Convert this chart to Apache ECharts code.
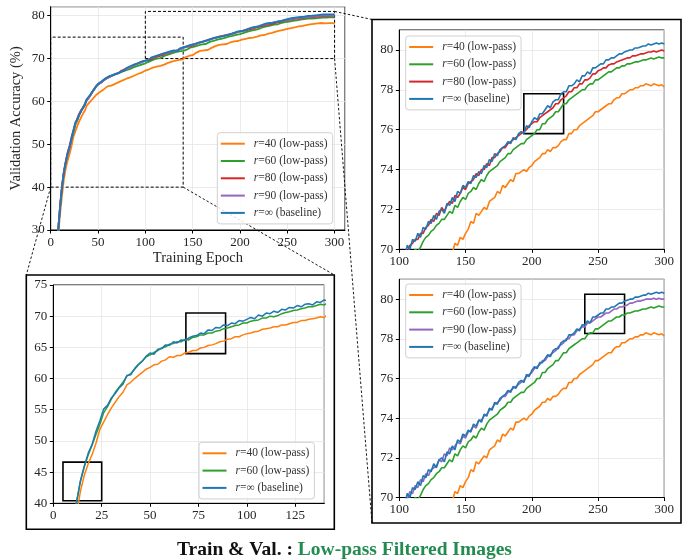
<!DOCTYPE html>
<html><head><meta charset="utf-8">
<script src="https://cdn.jsdelivr.net/npm/echarts@6/dist/echarts.min.js"></script>
<style>html,body{margin:0;padding:0;background:#fff}#c{width:694px;height:559px}</style>
</head><body><div id="c"></div>
<script>
// ---------- data: validation accuracy (%) every 2 epochs, epochs 2..300 ----------
const EPOCH_START = 2, EPOCH_STEP = 2;
const NAME_R40 = 'r=40 (low-pass)';
const NAME_R60 = 'r=60 (low-pass)';
const NAME_R80 = 'r=80 (low-pass)';
const NAME_R90 = 'r=90 (low-pass)';
const NAME_BASE = 'r=\u221e (baseline)';

const acc_r40 = [
 11.5,17.3,23.2,28.8,33.9,38.2,41.9,44.5,46.3,47.8,49.6,51.8,53.0,54.2,55.3,56.2,57.1,57.8,59.0,59.4,
 60.0,60.5,61.0,61.5,61.8,62.2,62.3,62.8,63.0,63.5,63.4,63.7,63.7,64.1,64.2,64.5,64.5,64.9,65.0,65.3,
 65.4,65.6,65.9,66.0,66.3,66.4,66.7,66.7,67.0,67.2,67.3,67.5,67.6,67.9,68.0,68.1,68.3,68.3,68.6,68.6,
 68.8,69.0,69.0,69.3,69.3,69.5,69.6,69.7,69.9,69.8,70.3,70.2,70.6,70.5,70.8,71.0,71.4,71.3,71.8,71.7,
 71.9,72.1,72.0,72.4,72.5,72.6,72.9,72.8,73.2,73.1,73.3,73.5,73.4,73.8,73.8,73.9,74.0,73.9,74.1,74.2,
 74.4,74.5,74.6,74.8,74.8,75.0,74.9,75.1,75.1,75.2,75.4,75.5,75.5,75.8,75.8,76.0,76.0,76.2,76.3,76.4,
 76.5,76.6,76.7,76.9,76.9,77.0,77.1,77.2,77.3,77.3,77.5,77.6,77.6,77.8,77.8,77.9,78.0,78.0,78.1,78.1,
 78.2,78.2,78.3,78.25,78.2,78.3,78.25,78.2,78.25,78.15
];
const acc_r60 = [
 12.1,18.2,24.4,30.2,35.6,40.1,43.5,45.9,47.7,49.3,51.0,52.6,54.5,55.5,56.7,57.8,58.6,59.4,60.4,60.8,
 61.5,62.2,62.8,63.5,63.8,64.2,64.5,64.9,65.1,65.5,65.6,65.9,65.9,66.3,66.2,66.6,66.7,67.0,67.0,67.3,
 67.3,67.6,67.7,68.0,68.1,68.3,68.5,68.6,68.9,68.9,69.2,69.3,69.4,69.7,69.7,70.0,69.9,70.1,70.4,70.6,
 70.7,70.9,71.0,71.2,71.3,71.5,71.5,71.7,71.9,71.8,72.2,72.1,72.4,72.6,72.5,72.8,72.9,73.1,73.0,73.3,
 73.5,73.4,73.7,73.9,74.0,74.1,74.2,74.4,74.5,74.6,74.8,74.8,75.0,75.1,75.2,75.3,75.3,75.5,75.6,75.7,
 75.8,76.0,76.0,76.3,76.3,76.5,76.6,76.7,76.9,76.9,77.1,77.3,77.3,77.5,77.6,77.7,77.8,77.9,78.0,78.0,
 78.2,78.3,78.3,78.5,78.5,78.6,78.7,78.8,78.9,78.9,79.0,79.1,79.1,79.2,79.2,79.3,79.3,79.35,79.4,79.4,
 79.45,79.5,79.5,79.55,79.6,79.55,79.6,79.65,79.6,79.6
];
const acc_r80 = [
 12.3,18.5,24.6,30.4,35.9,40.4,43.8,46.2,48.2,49.7,51.6,53.3,54.8,56.0,57.1,57.9,58.4,59.3,60.3,60.8,
 61.4,62.2,63.0,63.4,64.0,64.2,64.5,65.0,65.2,65.5,65.7,66.0,66.0,66.4,66.6,66.6,67.1,67.0,67.5,67.6,
 67.9,68.0,68.3,68.4,68.7,68.7,69.0,69.1,69.4,69.4,69.6,69.9,69.8,70.2,70.3,70.5,70.5,70.8,70.8,71.1,
 71.2,71.5,71.4,71.8,71.7,72.1,71.9,72.2,72.4,72.3,72.7,72.6,72.8,73.1,73.0,73.3,73.4,73.5,73.8,73.7,
 74.0,74.0,74.3,74.2,74.6,74.6,74.8,74.9,75.1,75.1,75.3,75.4,75.5,75.6,75.7,75.8,75.9,76.0,76.2,76.3,
 76.4,76.4,76.6,76.7,76.8,76.9,77.0,77.1,77.3,77.3,77.5,77.6,77.7,77.9,77.9,78.1,78.1,78.3,78.3,78.5,
 78.5,78.6,78.8,78.8,78.95,79.0,79.1,79.1,79.25,79.3,79.3,79.4,79.45,79.5,79.55,79.6,79.6,79.7,79.7,79.75,
 79.8,79.8,79.85,79.9,79.9,79.95,79.9,79.95,80.0,79.95
];
const acc_r90 = [
 12.1,18.1,24.2,30.2,35.7,40.1,43.5,45.8,47.8,49.3,51.2,53.0,54.7,55.7,56.8,57.7,58.4,59.2,60.2,60.7,
 61.5,62.2,62.9,63.5,63.9,64.2,64.6,65.0,65.2,65.5,65.8,65.9,66.1,66.3,66.5,66.7,67.0,67.1,67.4,67.6,
 67.8,68.0,68.3,68.4,68.6,68.8,69.0,69.1,69.3,69.5,69.6,69.9,69.9,70.3,70.2,70.6,70.5,70.9,70.8,71.2,
 71.1,71.4,71.5,71.6,71.9,71.8,72.2,72.1,72.5,72.4,72.6,72.8,72.7,73.1,73.0,73.3,73.4,73.6,73.5,73.9,
 73.9,74.1,74.2,74.4,74.5,74.7,74.8,74.9,75.1,75.1,75.3,75.4,75.5,75.6,75.7,75.8,75.9,76.1,76.2,76.3,
 76.5,76.6,76.7,76.9,76.9,77.1,77.2,77.3,77.4,77.6,77.7,77.8,78.0,78.0,78.2,78.2,78.4,78.5,78.6,78.6,
 78.8,78.8,78.9,79.0,79.1,79.1,79.2,79.3,79.3,79.4,79.5,79.5,79.6,79.6,79.65,79.7,79.8,79.8,79.85,79.9,
 79.9,79.95,80.0,80.0,80.0,80.05,80.0,80.05,80.0,80.0
];
const acc_base = [
 12.0,18.2,24.3,30.1,35.6,40.2,43.6,45.9,48.0,49.4,51.5,53.2,55.1,55.7,56.9,57.6,58.5,59.1,60.5,60.6,
 61.6,62.3,62.8,63.6,64.1,63.9,64.7,64.8,65.4,65.3,65.9,65.7,66.2,66.1,66.5,66.8,66.9,67.3,67.2,67.8,
 67.7,68.2,68.1,68.6,68.5,68.9,68.8,69.3,69.2,69.5,69.8,69.6,70.2,70.0,70.5,70.4,70.8,70.6,71.1,71.0,
 71.4,71.3,71.7,71.5,71.9,72.0,71.8,72.3,72.2,72.6,72.4,72.9,72.8,73.2,73.1,73.4,73.3,73.7,73.6,73.9,
 73.8,74.2,74.1,74.5,74.4,74.8,74.7,75.0,75.1,75.2,75.4,75.3,75.6,75.5,75.8,75.9,75.8,76.2,76.1,76.4,
 76.6,76.5,76.8,76.8,77.0,77.2,77.1,77.4,77.5,77.5,77.8,77.9,77.9,78.2,78.2,78.3,78.5,78.4,78.7,78.7,
 78.9,78.8,79.1,79.1,79.2,79.3,79.3,79.5,79.5,79.6,79.6,79.7,79.8,79.8,79.9,79.95,80.0,80.0,80.1,80.1,
 80.15,80.2,80.2,80.3,80.25,80.3,80.35,80.3,80.35,80.3
];

// zoom regions (data coordinates)
const MAIN_ZOOM_A = [[0, 40], [140, 75]];
const MAIN_ZOOM_B = [[100, 70], [300, 81]];
const BL_BOXES = [[[5, 40.4], [25, 46.6]], [[68.5, 64.0], [89, 70.5]]];
const TR_BOXES = [[[194, 75.8], [224, 77.8]]];
const BR_BOXES = [[[240, 78.27], [270, 80.25]]];

// ---------- helpers ----------
const COLORS = {r40:'#ff7f0e', r60:'#2ca02c', r80:'#d62728', r90:'#9467bd', base:'#1f77b4'};
const FONT = 'Liberation Serif';
function pairs(arr){ return arr.map((v,i)=>[EPOCH_START + i*EPOCH_STEP, v]); }
function line(name, color, idx, arr, w, extra){
  return Object.assign({
    type:'line', name, xAxisIndex: idx, yAxisIndex: idx, data: pairs(arr),
    symbol:'none', showSymbol:false, clip:true, animation:false,
    lineStyle:{color, width:w}, itemStyle:{color}, emphasis:{disabled:true}
  }, extra||{});
}
function areaMark(boxes, dashed){
  return {
    silent:true, label:{show:false},
    itemStyle:{color:'rgba(0,0,0,0)', borderColor:'#000', borderWidth: dashed?1:1.6, borderType: dashed?[3,2]:'solid'},
    data: boxes.map(b=>[{coord:b[0]},{coord:b[1]}])
  };
}
const grids = [
  {left:50.7, top:6.7, width:294.3, height:223.3},
  {left:53.3, top:285, width:271, height:218.3},
  {left:399.3, top:30, width:265, height:219.3},
  {left:399.3, top:279.3, width:265, height:218.2}
];
function xA(idx, min, max, interval, extra){
  return Object.assign({type:'value', gridIndex:idx, min, max, interval,
    axisLine:{show:true, onZero:false, lineStyle:{color:'#000', width:1}},
    axisTick:{show:true, length:3.5, lineStyle:{color:'#000'}},
    axisLabel:{fontFamily:FONT, fontSize:13, color:'#262626', margin:6, showMaxLabel: (max%interval===0)},
    splitLine:{show:true, lineStyle:{color:'#e6e6e6', width:0.8}}
  }, extra||{});
}
function yA(idx, min, max, interval, extra){
  return Object.assign({type:'value', gridIndex:idx, min, max, interval,
    axisLine:{show:true, onZero:false, lineStyle:{color:'#000', width:1}},
    axisTick:{show:true, length:3.5, lineStyle:{color:'#000'}},
    axisLabel:{fontFamily:FONT, fontSize:13, color:'#262626', margin:6, showMaxLabel: (max%interval===0)},
    splitLine:{show:true, lineStyle:{color:'#e6e6e6', width:0.8}}
  }, extra||{});
}
function legend(left, top, names){
  return {
    orient:'vertical', left, top, data:names, icon:'rect', itemWidth:24, itemHeight:2,
    itemGap:3.3, padding:[4,5,4,3.5], backgroundColor:'rgba(255,255,255,0.85)',
    borderColor:'#d0d0d0', borderWidth:1, borderRadius:3, selectedMode:false,
    formatter: n => '{i|r}' + n.slice(1),
    textStyle:{fontFamily:FONT, fontSize:11.5, color:'#333', lineHeight:14, padding:[0,0,0,4],
      rich:{i:{fontStyle:'italic', fontFamily:FONT, fontSize:11.5, color:'#333', lineHeight:14}}}
  };
}

const chart = echarts.init(document.getElementById('c'), null, {renderer:'canvas'});
const option = {
  animation:false,
  backgroundColor:'#fff',
  title:{
    text:'{a|Train & Val. : }{b|Low-pass Filtered Images}',
    left:172, top:535,
    textStyle:{rich:{
      a:{fontFamily:FONT, fontWeight:'bold', fontSize:19.5, color:'#111'},
      b:{fontFamily:FONT, fontWeight:'bold', fontSize:19.5, color:'#228b50'}
    }}
  },
  grid: grids.map(g=>Object.assign({show:true, borderColor:'#000', borderWidth:1, backgroundColor:'transparent', containLabel:false}, g)),
  xAxis:[
    xA(0, 0, 311, 50, {name:'Training Epoch', nameLocation:'middle', nameGap:21,
      nameTextStyle:{fontFamily:FONT, fontSize:14.5, color:'#262626'}}),
    xA(1, 0, 140, 25),
    xA(2, 100, 300, 50),
    xA(3, 100, 300, 50)
  ],
  yAxis:[
    yA(0, 30, 82.1, 10, {name:'Validation Accuracy (%)', nameLocation:'middle', nameGap:27, nameRotate:90,
      nameTextStyle:{fontFamily:FONT, fontSize:14.5, color:'#262626'}}),
    yA(1, 40, 75, 5),
    yA(2, 70, 81, 2),
    yA(3, 70, 81, 2)
  ],
  legend:[
    legend(217.3, 132.7, [NAME_R40, NAME_R60, NAME_R80, NAME_R90, NAME_BASE]),
    legend(199, 442.3, [NAME_R40, NAME_R60, NAME_BASE]),
    legend(405.7, 36, [NAME_R40, NAME_R60, NAME_R80, NAME_BASE]),
    legend(405.7, 284, [NAME_R40, NAME_R60, NAME_R90, NAME_BASE])
  ],
  series:[
    line(NAME_R40, COLORS.r40, 0, acc_r40, 1.8),
    line(NAME_R60, COLORS.r60, 0, acc_r60, 1.8),
    line(NAME_R80, COLORS.r80, 0, acc_r80, 1.8),
    line(NAME_R90, COLORS.r90, 0, acc_r90, 1.8),
    line(NAME_BASE, COLORS.base, 0, acc_base, 1.8, {markArea: areaMark([MAIN_ZOOM_A, MAIN_ZOOM_B], true)}),

    line(NAME_R40, COLORS.r40, 1, acc_r40, 1.5),
    line(NAME_R60, COLORS.r60, 1, acc_r60, 1.5),
    line(NAME_BASE, COLORS.base, 1, acc_base, 1.5, {markArea: areaMark(BL_BOXES, false)}),

    line(NAME_R40, COLORS.r40, 2, acc_r40, 1.6),
    line(NAME_R60, COLORS.r60, 2, acc_r60, 1.6),
    line(NAME_R80, COLORS.r80, 2, acc_r80, 1.6),
    line(NAME_BASE, COLORS.base, 2, acc_base, 1.6, {markArea: areaMark(TR_BOXES, false)}),

    line(NAME_R40, COLORS.r40, 3, acc_r40, 1.6),
    line(NAME_R60, COLORS.r60, 3, acc_r60, 1.6),
    line(NAME_R90, COLORS.r90, 3, acc_r90, 1.6),
    line(NAME_BASE, COLORS.base, 3, acc_base, 1.6, {markArea: areaMark(BR_BOXES, false)})
  ]
};
chart.setOption(option);

// frames around the zoomed panels and the connector lines
const BOX_RIGHT = {x:372, y:19.5, w:309, h:503.5};
const BOX_BL = {x:26.3, y:275, w:308, h:254.3};
const pA0 = chart.convertToPixel({gridIndex:0}, [MAIN_ZOOM_A[0][0], MAIN_ZOOM_A[0][1]]);
const pA1 = chart.convertToPixel({gridIndex:0}, [MAIN_ZOOM_A[1][0], MAIN_ZOOM_A[0][1]]);
const pB0 = chart.convertToPixel({gridIndex:0}, [MAIN_ZOOM_B[1][0], MAIN_ZOOM_B[1][1]]);
const pB1 = chart.convertToPixel({gridIndex:0}, [MAIN_ZOOM_B[1][0], MAIN_ZOOM_B[0][1]]);
const dash = {stroke:'#000', lineWidth:0.9, lineDash:[2.5,2]};
const frame = {stroke:'#000', lineWidth:1.6, fill:'none'};
chart.setOption({graphic:[
  {type:'rect', id:'bR', shape:{x:BOX_RIGHT.x, y:BOX_RIGHT.y, width:BOX_RIGHT.w, height:BOX_RIGHT.h}, style:frame, silent:true, z:0},
  {type:'rect', id:'bL', shape:{x:BOX_BL.x, y:BOX_BL.y, width:BOX_BL.w, height:BOX_BL.h}, style:frame, silent:true, z:0},
  {type:'line', id:'c1', shape:{x1:pA0[0], y1:pA0[1], x2:BOX_BL.x, y2:BOX_BL.y}, style:dash, silent:true},
  {type:'line', id:'c2', shape:{x1:pA1[0], y1:pA1[1], x2:BOX_BL.x+BOX_BL.w, y2:BOX_BL.y}, style:dash, silent:true},
  {type:'line', id:'c3', shape:{x1:pB0[0], y1:pB0[1], x2:BOX_RIGHT.x, y2:BOX_RIGHT.y}, style:dash, silent:true},
  {type:'line', id:'c4', shape:{x1:pB1[0], y1:pB1[1], x2:BOX_RIGHT.x, y2:BOX_RIGHT.y+BOX_RIGHT.h}, style:dash, silent:true}
]});
</script>
</body></html>
